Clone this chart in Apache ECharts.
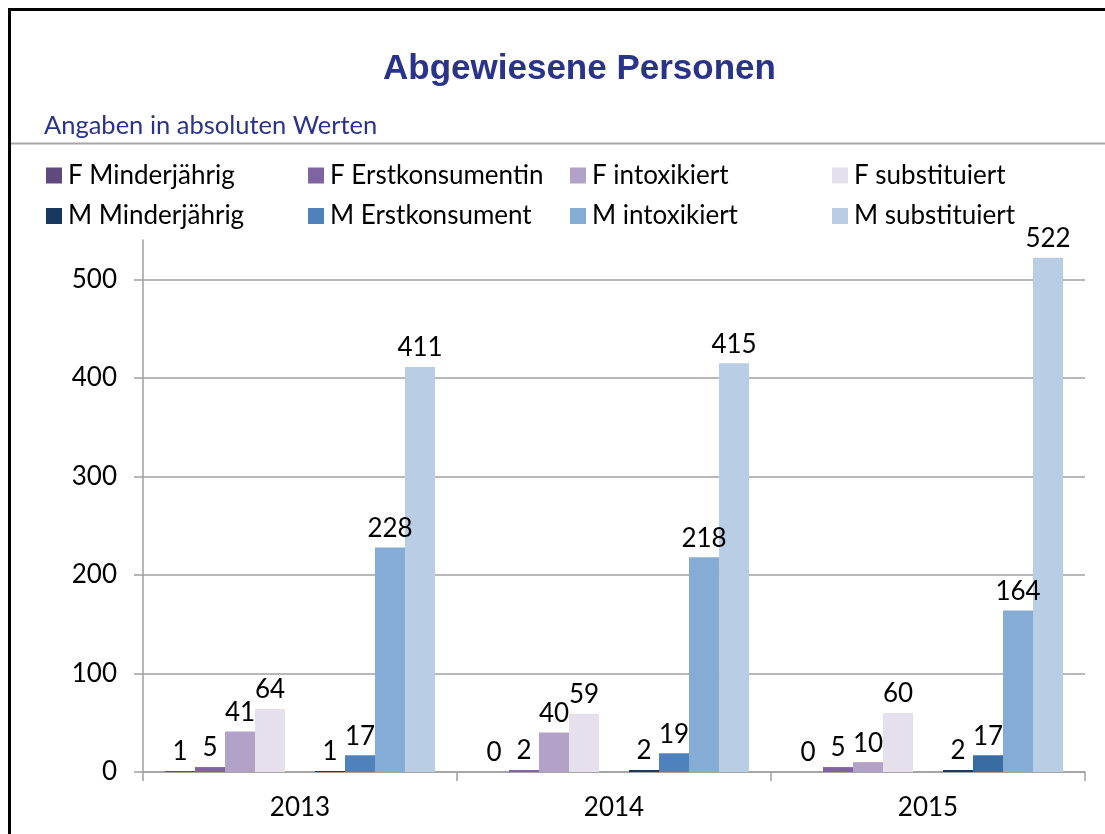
<!DOCTYPE html>
<html>
<head>
<meta charset="utf-8">
<script src="https://cdn.jsdelivr.net/npm/echarts@6/dist/echarts.min.js"></script>
<style>
html,body{margin:0;padding:0;background:#fff;}
#chart{width:1105px;height:834px;}
</style>
</head>
<body>
<div id="chart"></div>
<script>
const categories = ['2013', '2014', '2015'];
const seriesNames = ['F Minderjährig', 'F Erstkonsumentin', 'F intoxikiert', 'F substituiert',
                     'M Minderjährig', 'M Erstkonsument', 'M intoxikiert', 'M substituiert'];
const fMinderjaehrig = [1, 0, 0];
const fErstkonsumentin = [5, 2, 5];
const fIntoxikiert = [41, 40, 10];
const fSubstituiert = [64, 59, 60];
const mMinderjaehrig = [1, 2, 2];
const mErstkonsument = [17, 19, 17];
const mIntoxikiert = [228, 218, 164];
const mSubstituiert = [411, 415, 522];
const yTicks = [0, 100, 200, 300, 400, 500];
const titleText = 'Abgewiesene Personen';
const subtitleText = 'Angaben in absoluten Werten';

const values = [fMinderjaehrig, fErstkonsumentin, fIntoxikiert, fSubstituiert,
                mMinderjaehrig, mErstkonsument, mIntoxikiert, mSubstituiert];
const colors = ['#604A7B', '#8064A2', '#B3A2C7', '#E6E0EC',
                '#17375E', '#4F81BD', '#84ACD5', '#B9CDE5'];

const FONT = 'Lato';
const FS = 26;
const series = [];
values.forEach((vals, i) => {
  if (i === 4) {
    // empty spacer slot between F and M groups
    series.push({ type: 'bar', name: '__gap', data: categories.map(() => null), silent: true });
  }
  series.push({
    type: 'bar',
    name: seriesNames[i],
    data: vals.map((v, j) => (i === 5 && j === 2) ? { value: v, itemStyle: { color: '#3A6CA4' } } : v),
    itemStyle: { color: colors[i] },
    barGap: '0%',
    barCategoryGap: '14%',
    label: {
      show: true, position: 'top', distance: 6,
      color: '#000', fontFamily: FONT, fontSize: FS
    }
  });
});

const legends = seriesNames.map((n, i) => ({
  data: [n],
  left: 46 + (i % 4) * 262,
  top: 162.5 + Math.floor(i / 4) * 40.5,
  padding: 0,
  itemWidth: 16, itemHeight: 16, itemGap: 0,
  icon: 'rect',
  selectedMode: false,
  textStyle: { fontFamily: FONT, fontSize: FS, color: '#000', lineHeight: 26, padding: [0, 0, 0, 1] }
}));

const chart = echarts.init(document.getElementById('chart'), null, { renderer: 'canvas' });
chart.setOption({
  backgroundColor: '#fff',
  animation: false,
  color: colors,
  title: [
    { text: titleText, left: 383, top: 52, padding: 0,
      textStyle: { fontFamily: 'Liberation Sans', fontWeight: 'bold', fontSize: 35, color: '#2A338A' } },
    { text: subtitleText, left: 44, top: 113, padding: 0,
      textStyle: { fontFamily: FONT, fontWeight: 'normal', fontSize: 25.5, color: '#2A338A' } }
  ],
  legend: legends,
  graphic: [
    { type: 'rect', shape: { x: 9.5, y: 9.5, width: 1300, height: 1000 },
      style: { fill: 'none', stroke: '#000', lineWidth: 3 }, z: 100 },
    { type: 'line', shape: { x1: 11, y1: 143.5, x2: 1105, y2: 143.5 },
      style: { stroke: '#A6A6A6', lineWidth: 2 }, z: 100 }
  ],
  grid: { left: 143, right: 20, top: 240, bottom: 62, containLabel: false },
  xAxis: {
    type: 'category',
    data: categories,
    boundaryGap: true,
    axisLine: { show: true, lineStyle: { color: '#A0A0A0', width: 1.5 } },
    axisTick: { show: true, alignWithLabel: false, length: 9, lineStyle: { color: '#A0A0A0', width: 1.5 } },
    axisLabel: { margin: 23, color: '#000', fontFamily: FONT, fontSize: FS },
    splitLine: { show: false }
  },
  yAxis: {
    type: 'value',
    min: 0, max: 540, interval: 100,
    axisLine: { show: true, lineStyle: { color: '#A0A0A0', width: 1.5 } },
    axisTick: { show: true, length: 9, customValues: yTicks, lineStyle: { color: '#A0A0A0', width: 1.5 } },
    axisLabel: { margin: 26, color: '#000', fontFamily: FONT, fontSize: FS, customValues: yTicks },
    splitLine: { show: true, lineStyle: { color: '#A0A0A0', width: 1.5 } }
  },
  series: series
});
</script>
</body>
</html>
